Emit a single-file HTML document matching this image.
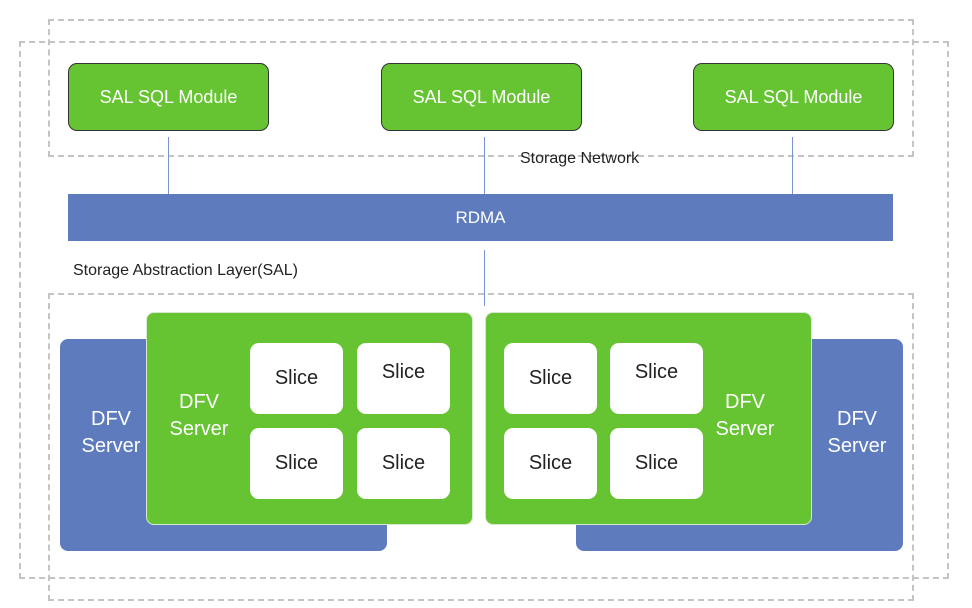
<!DOCTYPE html>
<html><head><style>
body{margin:0;width:972px;height:608px;background:#fff;position:relative;overflow:hidden;font-family:"Liberation Sans","DejaVu Sans",sans-serif;}
div{position:absolute;box-sizing:border-box;}
.d{border:2px dashed #c4c4c4;}
.m{background:#66c332;border:1.5px solid #333;border-radius:9px;color:#fff;font-size:18px;display:flex;align-items:center;justify-content:center;}
.v{width:1px;background:#7a93cc;}
.b{background:#5e7bbd;border-radius:8px;}
.g{background:#66c332;border-radius:8px;border:1px solid #d8e8cf;}
.s{background:#fff;border-radius:9px;width:93px;height:71px;display:flex;align-items:center;justify-content:center;font-size:20px;color:#222;}
.t{color:#fff;font-size:20px;text-align:center;line-height:27px;width:100px;}
.l{font-size:16px;color:#222;}
</style></head><body>
<div class="d" style="left:48px;top:19px;width:866px;height:138px"></div>
<div class="d" style="left:19px;top:41px;width:930px;height:538px"></div>
<div class="d" style="left:48px;top:293px;width:866px;height:308px"></div>
<div class="m" style="left:68px;top:63px;width:201px;height:68px">SAL SQL Module</div>
<div class="m" style="left:381px;top:63px;width:201px;height:68px">SAL SQL Module</div>
<div class="m" style="left:693px;top:63px;width:201px;height:68px">SAL SQL Module</div>
<div class="v" style="left:168px;top:137px;height:57px"></div>
<div class="v" style="left:484px;top:137px;height:57px"></div>
<div class="v" style="left:792px;top:137px;height:57px"></div>
<div class="v" style="left:484px;top:250px;height:56px"></div>
<div style="left:68px;top:194px;width:825px;height:47px;background:#5e7bbd;color:#fff;font-size:17px;display:flex;align-items:center;justify-content:center">RDMA</div>
<div class="l" style="left:520px;top:150px">Storage Network</div>
<div class="l" style="left:73px;top:262px">Storage Abstraction Layer(SAL)</div>

<div class="b" style="left:60px;top:339px;width:327px;height:212px"></div>
<div class="t" style="left:61px;top:406px">DFV<br>Server</div>
<div class="g" style="left:146px;top:312px;width:327px;height:213px"></div>
<div class="t" style="left:149px;top:389px">DFV<br>Server</div>
<div class="s" style="left:250px;top:343px">Slice</div>
<div class="s" style="left:357px;top:343px;align-items:flex-start;padding-top:18px">Slice</div>
<div class="s" style="left:250px;top:428px">Slice</div>
<div class="s" style="left:357px;top:428px">Slice</div>

<div class="b" style="left:576px;top:339px;width:327px;height:212px"></div>
<div class="t" style="left:807px;top:406px">DFV<br>Server</div>
<div class="g" style="left:485px;top:312px;width:327px;height:213px"></div>
<div class="t" style="left:695px;top:389px">DFV<br>Server</div>
<div class="s" style="left:504px;top:343px">Slice</div>
<div class="s" style="left:610px;top:343px;align-items:flex-start;padding-top:18px">Slice</div>
<div class="s" style="left:504px;top:428px">Slice</div>
<div class="s" style="left:610px;top:428px">Slice</div>
</body></html>
